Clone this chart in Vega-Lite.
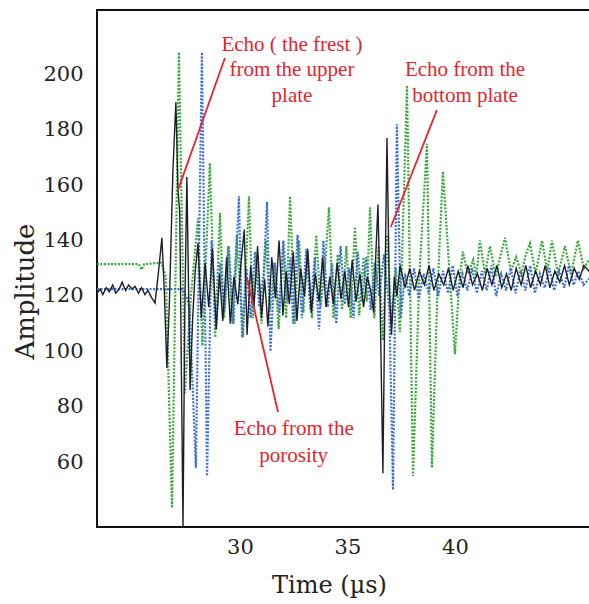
{
"$schema":"https://vega.github.io/schema/vega-lite/v6.json",
"width":497,"height":517,
"autosize":{"type":"none"},
"padding":{"left":97,"top":10,"right":0,"bottom":77},
"background":"white",
"config":{"view":{"stroke":"#111","strokeWidth":2}},
"datasets":{
"green":[{"t":23.35,"a":131.5},{"t":25.3,"a":131.5},{"t":25.42,"a":129.5},{"t":25.55,"a":131.5},{"t":26.35,"a":132},{"t":26.55,"a":127},{"t":26.84,"a":43.5},{"t":27.16,"a":208},{"t":27.44,"a":85},{"t":27.72,"a":120},{"t":28.05,"a":148},{"t":28.25,"a":102},{"t":28.6,"a":168},{"t":28.85,"a":105},{"t":29.07,"a":150},{"t":29.25,"a":112},{"t":29.45,"a":138},{"t":29.65,"a":110},{"t":29.85,"a":142},{"t":30.14,"a":105},{"t":30.42,"a":156},{"t":30.6,"a":112},{"t":30.8,"a":135},{"t":31.0,"a":110},{"t":31.2,"a":140},{"t":31.4,"a":115},{"t":31.6,"a":132},{"t":31.8,"a":108},{"t":32.0,"a":138},{"t":32.15,"a":112},{"t":32.33,"a":156},{"t":32.55,"a":110},{"t":32.75,"a":140},{"t":32.95,"a":114},{"t":33.15,"a":136},{"t":33.35,"a":112},{"t":33.55,"a":142},{"t":33.75,"a":116},{"t":33.95,"a":130},{"t":34.14,"a":152},{"t":34.35,"a":112},{"t":34.55,"a":135},{"t":34.75,"a":115},{"t":34.95,"a":138},{"t":35.15,"a":112},{"t":35.35,"a":145},{"t":35.55,"a":113},{"t":35.75,"a":134},{"t":35.9,"a":118},{"t":36.05,"a":152},{"t":36.25,"a":112},{"t":36.45,"a":138},{"t":36.65,"a":104},{"t":36.85,"a":142},{"t":37.05,"a":110},{"t":37.25,"a":130},{"t":37.44,"a":107},{"t":37.77,"a":196},{"t":38.05,"a":55},{"t":38.35,"a":128},{"t":38.7,"a":175},{"t":38.93,"a":58},{"t":39.18,"a":120},{"t":39.44,"a":165},{"t":40.0,"a":99},{"t":40.2,"a":125},{"t":40.37,"a":136},{"t":40.6,"a":128},{"t":40.85,"a":133},{"t":41.0,"a":127},{"t":41.16,"a":140},{"t":41.4,"a":128},{"t":41.63,"a":138},{"t":41.9,"a":127},{"t":42.1,"a":134},{"t":42.33,"a":141},{"t":42.6,"a":129},{"t":42.85,"a":134},{"t":43.1,"a":128},{"t":43.3,"a":135},{"t":43.49,"a":139},{"t":43.75,"a":128},{"t":44.05,"a":140},{"t":44.3,"a":129},{"t":44.51,"a":140},{"t":44.8,"a":128},{"t":45.12,"a":138},{"t":45.4,"a":128},{"t":45.72,"a":140},{"t":46.0,"a":130},{"t":46.47,"a":136}],
"blue":[{"t":23.35,"a":122.5},{"t":27.35,"a":122.5},{"t":27.5,"a":120},{"t":27.65,"a":116},{"t":27.95,"a":58},{"t":28.23,"a":208},{"t":28.47,"a":55},{"t":28.68,"a":140},{"t":28.88,"a":108},{"t":29.08,"a":132},{"t":29.28,"a":114},{"t":29.48,"a":138},{"t":29.7,"a":110},{"t":29.95,"a":156},{"t":30.1,"a":105},{"t":30.3,"a":130},{"t":30.5,"a":112},{"t":30.7,"a":136},{"t":30.9,"a":116},{"t":31.1,"a":128},{"t":31.26,"a":154},{"t":31.42,"a":100},{"t":31.62,"a":132},{"t":31.82,"a":114},{"t":32.02,"a":140},{"t":32.22,"a":118},{"t":32.35,"a":134},{"t":32.47,"a":110},{"t":32.68,"a":142},{"t":32.88,"a":112},{"t":33.08,"a":137},{"t":33.28,"a":115},{"t":33.48,"a":134},{"t":33.68,"a":108},{"t":33.88,"a":140},{"t":34.08,"a":116},{"t":34.28,"a":132},{"t":34.48,"a":110},{"t":34.68,"a":138},{"t":34.88,"a":117},{"t":35.08,"a":130},{"t":35.28,"a":112},{"t":35.48,"a":136},{"t":35.68,"a":118},{"t":35.88,"a":134},{"t":36.08,"a":115},{"t":36.28,"a":132},{"t":36.48,"a":120},{"t":36.7,"a":135},{"t":36.95,"a":115},{"t":37.12,"a":50},{"t":37.3,"a":182},{"t":37.48,"a":112},{"t":37.68,"a":128},{"t":37.88,"a":120},{"t":38.1,"a":130},{"t":38.32,"a":119},{"t":38.55,"a":128},{"t":38.78,"a":121},{"t":39.0,"a":130},{"t":39.22,"a":120},{"t":39.45,"a":129},{"t":39.68,"a":121},{"t":39.9,"a":131},{"t":40.12,"a":120},{"t":40.35,"a":128},{"t":40.58,"a":122},{"t":40.8,"a":130},{"t":41.02,"a":121},{"t":41.25,"a":129},{"t":41.48,"a":122},{"t":41.7,"a":131},{"t":41.92,"a":120},{"t":42.15,"a":128},{"t":42.38,"a":122},{"t":42.6,"a":130},{"t":42.82,"a":121},{"t":43.05,"a":129},{"t":43.28,"a":122},{"t":43.5,"a":131},{"t":43.72,"a":121},{"t":43.95,"a":128},{"t":44.18,"a":123},{"t":44.4,"a":130},{"t":44.62,"a":122},{"t":44.85,"a":129},{"t":45.08,"a":123},{"t":45.3,"a":131},{"t":45.52,"a":124},{"t":45.75,"a":129},{"t":45.98,"a":124},{"t":46.47,"a":128}],
"black":[{"t":23.35,"a":121},{"t":23.5,"a":122.5},{"t":23.62,"a":120.5},{"t":23.78,"a":123},{"t":23.92,"a":121.5},{"t":24.08,"a":124},{"t":24.22,"a":121},{"t":24.38,"a":122.5},{"t":24.52,"a":125},{"t":24.68,"a":122},{"t":24.82,"a":124},{"t":24.98,"a":122.5},{"t":25.12,"a":123.5},{"t":25.28,"a":121},{"t":25.42,"a":123},{"t":25.58,"a":120.5},{"t":25.72,"a":122},{"t":25.88,"a":119.5},{"t":26.05,"a":117.5},{"t":26.2,"a":128},{"t":26.37,"a":141},{"t":26.48,"a":122},{"t":26.6,"a":94},{"t":26.72,"a":118},{"t":26.88,"a":165},{"t":27.02,"a":190},{"t":27.12,"a":158},{"t":27.2,"a":150},{"t":27.28,"a":90},{"t":27.35,"a":37},{"t":27.44,"a":118},{"t":27.53,"a":163},{"t":27.6,"a":128},{"t":27.68,"a":86},{"t":27.8,"a":112},{"t":27.92,"a":129},{"t":28.05,"a":139},{"t":28.2,"a":112},{"t":28.38,"a":132},{"t":28.55,"a":116},{"t":28.72,"a":137},{"t":28.9,"a":108},{"t":29.05,"a":128},{"t":29.2,"a":111},{"t":29.38,"a":134},{"t":29.55,"a":110},{"t":29.72,"a":127},{"t":29.9,"a":117},{"t":30.05,"a":132},{"t":30.2,"a":144},{"t":30.33,"a":106},{"t":30.5,"a":131},{"t":30.65,"a":116},{"t":30.82,"a":138},{"t":31.0,"a":112},{"t":31.15,"a":126},{"t":31.3,"a":109},{"t":31.48,"a":134},{"t":31.65,"a":119},{"t":31.82,"a":140},{"t":32.0,"a":113},{"t":32.15,"a":129},{"t":32.3,"a":117},{"t":32.48,"a":136},{"t":32.65,"a":111},{"t":32.82,"a":130},{"t":33.0,"a":120},{"t":33.15,"a":137},{"t":33.32,"a":114},{"t":33.5,"a":128},{"t":33.68,"a":118},{"t":33.85,"a":134},{"t":34.0,"a":116},{"t":34.18,"a":127},{"t":34.35,"a":117},{"t":34.52,"a":132},{"t":34.7,"a":119},{"t":34.88,"a":129},{"t":35.05,"a":116},{"t":35.22,"a":133},{"t":35.4,"a":118},{"t":35.58,"a":128},{"t":35.75,"a":116},{"t":35.92,"a":127},{"t":36.08,"a":122},{"t":36.22,"a":114},{"t":36.32,"a":135},{"t":36.42,"a":153},{"t":36.52,"a":118},{"t":36.65,"a":56},{"t":36.75,"a":125},{"t":36.84,"a":177},{"t":36.95,"a":122},{"t":37.05,"a":106},{"t":37.18,"a":127},{"t":37.3,"a":120},{"t":37.45,"a":131},{"t":37.68,"a":123},{"t":37.9,"a":130},{"t":38.12,"a":122},{"t":38.35,"a":129},{"t":38.58,"a":124},{"t":38.8,"a":131},{"t":39.02,"a":122},{"t":39.25,"a":128},{"t":39.48,"a":124},{"t":39.7,"a":130},{"t":39.92,"a":122},{"t":40.15,"a":129},{"t":40.38,"a":123},{"t":40.6,"a":131},{"t":40.82,"a":124},{"t":41.05,"a":128},{"t":41.28,"a":122},{"t":41.5,"a":130},{"t":41.72,"a":124},{"t":41.95,"a":131},{"t":42.18,"a":123},{"t":42.4,"a":128},{"t":42.62,"a":122},{"t":42.85,"a":130},{"t":43.08,"a":124},{"t":43.3,"a":131},{"t":43.52,"a":123},{"t":43.75,"a":129},{"t":43.98,"a":124},{"t":44.2,"a":131},{"t":44.42,"a":123},{"t":44.65,"a":129},{"t":44.88,"a":125},{"t":45.1,"a":131},{"t":45.32,"a":124},{"t":45.55,"a":130},{"t":45.78,"a":126},{"t":46.0,"a":131},{"t":46.47,"a":127}],
"notes":[{"t":32.42,"a":208.6,"label":"Echo ( the frest )"},{"t":32.42,"a":199.4,"label":"from the upper"},{"t":32.42,"a":190.1,"label":"plate"},{"t":40.47,"a":199.4,"label":"Echo from the"},{"t":40.47,"a":190.1,"label":"bottom plate"},{"t":32.5,"a":69.8,"label":"Echo from the"},{"t":32.5,"a":60.1,"label":"porosity"}],
"arrows":[{"t":29.3,"a":205.9,"t2":27.12,"a2":158.3},{"t":39.16,"a":187.1,"t2":37.02,"a2":144.9},{"t":31.77,"a":78.1,"t2":30.33,"a2":126.5}]
},
"encoding":{
"x":{"field":"t","type":"quantitative","scale":{"domain":[23.35,46.47],"nice":false,"zero":false},
"axis":{"values":[30,35,40],"grid":false,"ticks":false,"tickSize":0,"domain":false,"labelFont":"DejaVu Serif","labelFontSize":21,"labelColor":"#222","labelPadding":9,"title":"Time (µs)","titleFont":"DejaVu Serif","titleFontSize":24,"titleFontWeight":"normal","titleColor":"#222","titleX":232,"titleY":65,"titleBaseline":"alphabetic","titleAlign":"center"}},
"y":{"field":"a","type":"quantitative","scale":{"domain":[36.6,223.25],"nice":false,"zero":false},
"axis":{"values":[60,80,100,120,140,160,180,200],"grid":false,"ticks":false,"tickSize":0,"domain":false,"labelFont":"DejaVu Serif","labelFontSize":21,"labelColor":"#222","labelPadding":14,"title":"Amplitude","titleFont":"DejaVu Serif","titleFontSize":26,"titleFontWeight":"normal","titleColor":"#222","titleX":-64,"titleY":281,"titleBaseline":"alphabetic","titleAlign":"center","titleAngle":270}}
},
"layer":[
{"data":{"name":"green"},"mark":{"type":"line","color":"#3aa83a","strokeWidth":2.2,"strokeDash":[2,1.5]}},
{"data":{"name":"blue"},"mark":{"type":"line","color":"#3b6fd6","strokeWidth":2.2,"strokeDash":[2,1.5]}},
{"data":{"name":"black"},"mark":{"type":"line","color":"#1e1e2a","strokeWidth":1.4}},
{"data":{"name":"arrows"},"mark":{"type":"rule","color":"#e3262e","strokeWidth":1.8},"encoding":{"x2":{"field":"t2"},"y2":{"field":"a2"}}},
{"data":{"name":"notes"},"mark":{"type":"text","font":"Liberation Serif","fontSize":21,"color":"#e3262e","align":"center","baseline":"alphabetic"},"encoding":{"text":{"field":"label"}}}
]
}
